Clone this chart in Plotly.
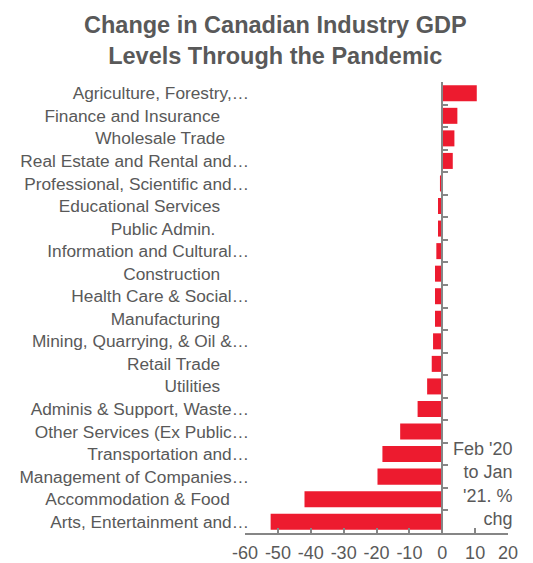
import plotly.graph_objects as go

categories = [
    "Agriculture, Forestry,…",
    "Finance and Insurance\u00a0\u00a0\u00a0\u00a0\u00a0\u00a0",
    "Wholesale Trade\u00a0\u00a0\u00a0\u00a0\u00a0",
    "Real Estate and Rental and…",
    "Professional, Scientific and…",
    "Educational Services\u00a0\u00a0\u00a0\u00a0\u00a0\u00a0",
    "Public Admin.\u00a0\u00a0\u00a0\u00a0\u00a0\u00a0\u00a0",
    "Information and Cultural…",
    "Construction\u00a0\u00a0\u00a0\u00a0\u00a0\u00a0",
    "Health Care & Social…",
    "Manufacturing\u00a0\u00a0\u00a0\u00a0\u00a0\u00a0",
    "Mining, Quarrying, & Oil &…",
    "Retail Trade\u00a0\u00a0\u00a0\u00a0\u00a0\u00a0",
    "Utilities\u00a0\u00a0\u00a0\u00a0\u00a0\u00a0",
    "Adminis & Support, Waste…",
    "Other Services (Ex Public…",
    "Transportation and…",
    "Management of Companies…",
    "Accommodation & Food\u00a0\u00a0\u00a0\u00a0",
    "Arts, Entertainment and…",
]
values = [10.5, 4.6, 3.7, 3.2, -0.7, -1.3, -1.3, -1.8, -2.2, -2.2,
          -2.2, -2.8, -3.2, -4.6, -7.5, -12.8, -18.2, -19.7, -41.9, -52.2]
x_ticks = [-60, -50, -40, -30, -20, -10, 0, 10, 20]
x_tick_text = ["-60", "-50", "-40", "-30", "-20", "-10", "0", "10", "20"]

GRAY_TXT = "#595959"
AXIS = "#868686"
RED = "#ED1B2F"
FONT = "Liberation Sans, Arial, sans-serif"

fig = go.Figure()
fig.add_trace(go.Bar(
    x=values, y=categories, orientation="h",
    marker=dict(color=RED, line=dict(width=0)),
    showlegend=False, hoverinfo="x+y",
))
# invisible helper trace to drive the axis drawn at x = 0
fig.add_trace(go.Scatter(
    x=[0] * len(categories), y=categories, yaxis="y2", mode="markers",
    marker=dict(opacity=0), showlegend=False, hoverinfo="skip",
))

n = len(categories)
L, R = 240, 25
W = 533 - L - R
fig.update_layout(
    width=533, height=563,
    margin=dict(l=L, r=R, t=82, b=30),
    paper_bgcolor="white", plot_bgcolor="white",
    font=dict(family=FONT, color=GRAY_TXT),
    bargap=0.29,
    xaxis=dict(
        domain=[5 / W, 1.0], automargin=False,
        range=[-60, 20], tickvals=x_ticks, ticktext=x_tick_text,
        showgrid=False, zeroline=False,
        showline=True, linecolor=AXIS, linewidth=1.5,
        ticks="inside", ticklen=5, tickcolor=AXIS, tickwidth=1.5,
        tickfont=dict(size=18, color=GRAY_TXT), ticklabelstandoff=3,
    ),
    yaxis=dict(
        type="category", categoryarray=categories, automargin=False,
        anchor="free", position=9 / W,
        range=[n - 0.5, -0.5], showgrid=False, zeroline=False,
        showline=False, ticks="", tickfont=dict(size=17.3, color=GRAY_TXT),
        ticklabelstandoff=0,
    ),
    yaxis2=dict(
        type="category", categoryarray=categories, overlaying="y",
        anchor="free", position=(5 + 0.75 * (W - 5)) / W, side="left",
        range=[n - 0.5, -0.5], showgrid=False, zeroline=False,
        showline=True, linecolor=AXIS, linewidth=1.5,
        ticks="inside", tickson="boundaries", ticklen=5, tickcolor=AXIS,
        tickwidth=1.5, showticklabels=False, automargin=False,
    ),
    annotations=[
        dict(
            text="<b>Change in Canadian Industry GDP<br>Levels Through the Pandemic</b>",
            xref="paper", yref="paper", x=(275 - L) / W, y=1 + (82 - 10) / 451,
            xanchor="center", yanchor="top", align="center", showarrow=False,
            font=dict(size=23.5, color=GRAY_TXT, family=FONT),
        ),
        dict(
            text="Feb '20<br>to Jan<br>'21. %<br>chg",
            xref="paper", yref="paper", x=(514 - L) / W, y=(533 - 484) / 451,
            xanchor="right", yanchor="middle", align="right", showarrow=False,
            font=dict(size=18, color=GRAY_TXT, family=FONT),
        ),
    ],
)

fig.write_html("out.html")
